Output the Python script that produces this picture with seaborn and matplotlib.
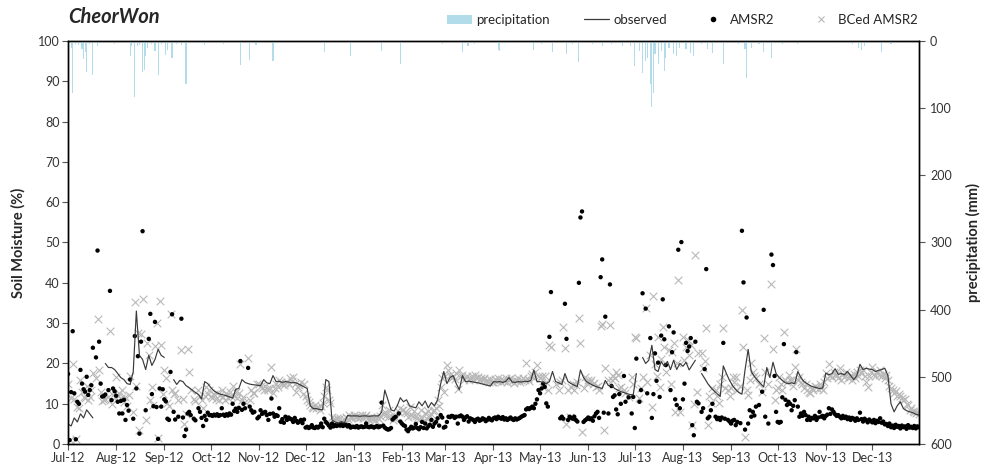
import numpy as np
import pandas as pd
import matplotlib
matplotlib.use("Agg")
import matplotlib.pyplot as plt
import matplotlib.dates as mdates
from matplotlib.lines import Line2D
from matplotlib.patches import Patch
import seaborn as sns

nan = np.nan
start = "2012-07-01"

# observed soil moisture (%), one value every 2 days from 1 Jul 2012
obs_sm = [
    5.0, 4.5, 6.5, 5.5, 7.5, 6.5, 8.5, 7.5, 6.5, nan, nan, nan, 20.0, 19.0, 19.0, 18.5,      # Jul-12
    17.5, 16.5, 16.0, 15.0, 14.8, 18.0, 33.0, 22.0, 21.0, 18.5, 22.0, 19.5, 21.0, 23.5, 22.0,  # Aug-12
    21.5, nan, nan, 16.0, 14.8, 15.8, 15.5, 14.5, 14.0, 13.4, 12.8, 12.3, 11.2, 15.5, 15.0,   # Sep-12
    14.0, 13.2, 12.7, 12.4, 12.2, 12.0, 11.7, 11.4, 13.6, 13.8, 16.0, 15.3, 15.0, 14.8, 14.7, 14.6,  # Oct-12
    14.5, 16.0, 15.2, 15.0, 17.0, 15.5, 15.6, 15.3, 15.5, 15.4, 15.2, 15.3, 15.0, 14.6, 14.2,  # Nov-12
    13.8, 9.5, 8.8, 8.8, 8.6, 8.5, 16.0, 15.5, 6.0, 5.5, 5.2, 5.6, 5.3, 7.1, 7.0,           # Dec-12
    7.0, 7.0, 6.9, 7.0, 7.0, 6.9, 7.0, 7.0, 7.0, 8.0, 13.4, 11.0, 8.5, 8.2, 9.5, 11.5,        # Jan-13
    10.5, 11.0, 9.5, 9.2, 9.0, 10.5, 9.5, 10.7, 9.0, 10.3, 9.5, 11.0, 15.0, 18.0,           # Feb-13
    15.0, 16.5, 17.0, 15.0, 13.5, 17.0, 15.5, 15.6, 15.5, 15.3, 15.2, 15.0, 14.8, 14.6, 14.4,  # Mar-13
    15.5, 15.4, 15.5, 15.3, 15.6, 16.5, 15.4, 15.3, 15.5, 15.4, 15.6, 15.5, 15.8, 18.4, 15.5,  # Apr-13
    15.5, 15.3, 15.0, 15.5, 18.0, 15.5, 15.2, 14.8, 17.5, 15.5, 15.0, 14.6, 14.3, 18.4, 16.5, 15.5,  # May-13
    15.0, 14.6, 14.3, 14.0, 13.8, 15.8, 14.5, 14.6, 13.8, 13.4, 13.0, 12.8, 12.5, 12.3, 12.2,  # Jun-13
    17.5, nan, 21.5, 20.0, 20.8, 24.5, 18.5, 18.0, 20.5, 19.3, 20.5, 18.5, 20.8, 18.5, 20.0,   # Jul-13
    19.3, 20.3, 18.4, 19.6, 20.8, nan, 17.5, 16.3, 15.0, 14.0, 13.2, 12.5, 11.8, 19.4, 17.5, 15.8,  # Aug-13
    14.5, 13.5, 12.8, 12.4, 18.4, 23.5, 18.0, 16.8, 15.8, 15.0, 14.2, 19.0, 16.5, 20.3, 17.5,  # Sep-13
    16.5, 15.8, 15.2, 15.0, 15.2, 15.0, 18.0, 16.5, 15.5, 15.0, 14.5, 14.2, 14.0, 13.8, 13.9,  # Oct-13
    17.6, 17.2, 17.5, 18.7, 17.3, 17.5, 17.2, 18.0, 17.0, 16.0, 17.0, 19.8, 18.5, 18.8, 18.6,  # Nov-13
    18.5, 18.0, 18.3, 18.5, 18.8, 17.0, 10.0, 8.0, 9.5, 10.5, 8.8, 8.3, 8.0, 7.8, 7.4, 7.2,    # Dec-13
]

# AMSR2 soil moisture (%), daily from 1 Jul 2012
amsr2_sm = [
    17.4, 1.0, 12.9, 28.0, 12.6, 1.2, 10.5, 10.0, 18.4, 15.0, 13.6, 13.0, 16.7, 12.2, 13.4, 14.6,
    23.9, nan, 21.5, 48.0, 25.4, 15.0, 11.8, 11.9, 12.3, nan, 13.4, 38.0, 10.9, 13.8, 13.1,
    12.0, 10.5, 7.6, 10.7, 7.6, 11.0, 6.0, 9.7, 8.3, 16.0, nan, 6.3, 26.8, 13.8, 21.8, 2.6,
    25.4, 52.8, nan, 8.4, nan, 26.1, 32.3, 12.4, 9.4, 30.3, 9.2, 1.3, 13.8, 9.3, 13.6,
    11.1, 10.6, 6.3, 6.0, 17.9, 32.2, 8.0, 6.1, nan, 6.8, nan, 31.1, 6.6, 2.0, 3.6,
    7.6, 8.0, 7.2, nan, 6.3, 5.9, nan, 8.9, 8.0, 6.5, 4.5, 7.0, 6.0, 7.8, 7.2,
    7.2, 7.0, 7.3, 7.1, 7.4, 7.0, 7.2, 8.9, 7.3, 7.0, 7.4, 7.1, 7.6, 7.3, 10.0, 8.2,
    8.8, 8.0, 9.0, 20.6, 8.5, 10.0, 8.9, nan, 18.9, 9.3, 8.4, 7.8, 8.0, nan, 6.4,
    6.8, 8.4, 7.5, 7.8, 8.0, 7.2, 6.0, 7.5, 11.3, 7.6, 6.8, 7.2, 7.0, 8.9, 5.5,
    6.2, 5.3, 6.8, 6.0, 6.6, 6.3, 6.1, 5.5, 6.5, 5.8, 5.3, 5.6, 6.0, 5.2, 6.1,
    4.1, 4.3, 4.0, 4.2, 4.7, 4.1, 4.0, 4.3, 4.1, 4.4, 5.1, 4.2, 6.3, 5.5, 5.1, 4.6,
    4.1, 5.1, 4.4, 4.7, 4.5, 4.8, 4.6, 4.9, 4.5, 4.7, 4.8, 4.4, 4.7, 4.1, 4.3,
    4.3, 4.2, 4.5, 4.1, 4.3, 4.4, 4.2, 4.3, 5.1, 4.3, 4.2, 4.4, 4.3, 4.1, 4.3, 4.5,
    4.2, 4.4, 10.3, 4.6, 4.1, 3.8, 3.6, 3.7, 4.0, 6.1, 6.5, 6.8, nan, 7.6, 5.6,
    5.1, 4.7, 4.5, 3.6, 3.2, 3.8, 4.3, 3.9, 4.1, 5.0, 4.0, 3.7, 4.2, 5.5,
    4.0, 5.1, 3.9, 4.4, 4.8, 6.0, 4.3, 5.1, 5.5, 6.4, 4.6, 7.2, 6.6, 4.1,
    4.3, 5.5, 6.8, 6.7, 7.0, 6.9, 6.5, 6.8, 5.1, 6.9, 7.1, 6.8, 6.0, 6.6, 6.9, 5.6,
    6.4, 6.2, 6.0, 5.5, 6.1, 6.3, 5.8, 6.0, 6.4, 6.2, 5.7, 6.0, 6.5, 6.1, 5.9,
    6.4, 6.6, 6.2, 6.8, 6.5, 6.3, 6.7, 6.1, 6.4, 6.0, 6.3, 6.6, 6.2, 6.0, 6.4,
    6.1, 6.3, 6.5, 6.8, 7.0, 7.2, 8.6, 8.9, 8.7, 9.0, 9.3, 8.9, 10.0, 11.1, 13.4,
    12.6, 13.8, 15.0, 14.2, 10.1, 9.3, 26.6, 37.7, nan, nan, nan, nan, nan, 6.4, 6.8, 6.3,
    34.8, 26.1, 6.0, 6.8, 6.5, 6.3, 6.8, 6.0, 5.6, 40.0, 56.2, 57.7, 5.5, 5.9, 6.2,
    6.6, 6.2, 6.4, 5.8, 6.9, 7.6, 8.0, 6.5, 41.4, 45.8, 7.8, 31.6, nan, 7.6, 39.6,
    14.4, 11.7, 12.1, 8.6, 7.4, 12.4, 10.0, nan, 16.9, 10.5, nan, 11.6, nan, 7.6, 11.7,
    4.0, 21.2, nan, 10.5, 13.4, 37.4, nan, 33.6, 12.6, nan, 26.3, 6.5, 12.4, 22.5, 15.7, 20.2,
    11.7, 26.9, 35.9, 26.0, 19.6, nan, 29.2, 13.4, 22.8, 27.7, 11.1, 9.7, 48.2, 8.9, 50.1,
    11.1, 15.0, 25.1, 23.1, 24.2, 26.3, 4.7, 2.2, 25.4, 10.5, 10.1, nan, 8.0, 8.9, 18.6, 43.4,
    6.4, 6.8, 8.4, 10.0, nan, 6.8, 6.2, 6.5, 6.0, 6.6, 25.1, 6.3, nan, 6.0, 5.6,
    5.1, 5.8, 6.0, 4.7, 5.5, nan, 5.2, 52.9, 40.1, 3.6, 31.4, 5.1, 8.4, 6.8, 8.0,
    7.1, 9.3, nan, 9.7, nan, 13.0, 33.3, 6.8, nan, 5.1, nan, 47.0, 44.4, 16.9, 8.0,
    5.5, 5.3, 5.5, 11.6, 24.8, 11.0, 9.7, 10.5, 10.0, 8.4, 9.5, 10.9, 22.8, 9.3, 6.8, 7.6,
    7.0, 8.0, 7.2, 6.0, 6.8, 6.0, 6.5, 6.4, 7.0, 6.0, 6.6, 8.0, 6.8, 7.0, 6.4,
    7.0, 7.3, 8.9, 7.5, 8.6, 8.0, 7.4, 7.0, 7.2, 6.8, 6.4, 7.0, 6.5, 6.8, 6.2,
    6.6, 6.0, 6.5, 6.3, 5.8, 6.4, 6.0, 7.8, 6.2, 5.6, 6.3, 5.9, 5.4, 6.1, 5.7,
    5.4, 6.0, 5.2, 5.8, 5.5, 6.4, 5.3, 5.6, 4.9, 5.0, 4.5, 5.1, 4.2, 4.6, 4.0, 4.8,
    4.3, 4.5, 3.9, 4.6, 4.2, 4.4, 3.8, 4.7, 4.1, 4.3, 4.0, 4.5, 3.9, 4.4, 4.2,
]

# bias-corrected AMSR2 soil moisture (%), daily from 1 Jul 2012
bced_sm = [
    15.0, 1.0, 11.5, 19.9, 11.3, 1.3, 9.3, 9.0, 15.9, 13.0, 11.8, 11.5, 14.3, 10.9, 11.8, 13.4,
    17.7, nan, 16.5, 31.0, 18.5, 13.0, 10.8, 10.9, 11.2, nan, 11.8, 28.1, 9.9, 12.2, 11.6,
    16.7, 12.0, 12.7, 11.5, 13.4, 10.5, 11.7, 9.5, 12.2, 17.0, nan, 8.0, 35.2, 14.5, 27.5, 3.5,
    27.3, 36.0, nan, 6.0, 25.0, 22.1, 10.9, 14.2, 9.8, 24.3, 30.1, 1.4, 35.5, 24.7, 12.5,
    18.4, 16.3, 10.1, 9.5, 32.2, 13.4, 12.5, 12.6, nan, 11.0, nan, 23.3, 11.2, 5.1, 7.5,
    23.7, 17.9, 13.4, nan, 11.3, 10.8, nan, 13.5, 12.0, 10.9, 9.0, 12.0, 14.2, 12.5, 13.4,
    12.0, 11.5, 12.5, 11.2, 12.8, 11.0, 12.2, 13.5, 11.8, 10.9, 12.6, 11.4, 13.0, 12.0, 14.5, 12.0,
    13.0, 11.5, 12.8, 19.9, 11.0, 11.7, 10.5, nan, 21.3, 11.0, 13.4, 12.6, 12.8, nan, 15.0,
    15.0, 14.5, 14.0, 13.4, 14.5, 13.6, 13.4, 14.0, 19.2, 12.6, 14.0, 15.0, 14.2, 15.8, 15.5,
    14.8, 14.6, 15.2, 15.5, 14.8, 16.3, 15.6, 16.7, 15.0, 13.0, 14.2, 14.6, 15.5, 12.5, 15.0,
    12.0, 11.0, 10.5, 9.8, 9.3, 9.0, 9.7, 8.9, 9.2, 8.4, 9.5, 10.1, 12.0, 14.2, 13.4, 11.0,
    10.1, 6.8, 6.2, 6.0, 6.5, 6.0, 6.4, 5.8, 5.1, 6.2, 6.8, 6.3, 7.2, 6.5, 6.8,
    7.2, 6.8, 7.0, 6.5, 6.8, 7.1, 6.6, 6.9, 7.3, 6.4, 6.0, 6.7, 6.2, 6.5, 6.0, 6.8,
    6.3, 6.9, 9.7, 7.5, 8.0, 7.2, 6.8, 8.4, 7.0, 6.0, 6.5, 6.4, nan, 8.0, 8.9,
    8.5, 8.4, 8.0, 7.6, 6.8, 9.3, 7.2, 6.9, 8.2, 7.0, 6.6, 6.2, 8.4, 6.5,
    6.0, 7.8, 6.3, 8.1, 7.0, 7.5, 8.3, 8.5, 9.0, 10.9, 9.5, 14.2, 16.3, 13.0,
    17.0, 19.6, 18.4, 17.2, 16.5, 17.0, 16.2, 17.6, 13.6, 18.4, 16.8, 17.2, 16.0, 16.6, 17.0, 15.8,
    16.4, 16.8, 16.2, 17.1, 16.4, 16.7, 16.0, 16.3, 15.8, 16.4, 15.6, 16.0, 15.4, 16.1, 15.5,
    15.5, 16.2, 15.6, 16.4, 15.8, 15.3, 16.0, 15.7, 16.5, 15.4, 16.1, 16.5, 15.7, 15.2, 16.0,
    15.6, 16.3, 15.5, 16.0, 16.5, 15.8, 20.2, 16.2, 15.7, 17.0, 17.5, 16.5, 18.0, 19.6, 17.0,
    16.5, 17.0, 14.2, 17.0, 15.5, 13.4, 24.6, 24.2, nan, nan, 15.0, nan, 13.4, 15.5, 16.0, 29.0,
    23.8, 5.1, 13.5, 6.8, 14.2, 15.0, 13.4, 14.6, 15.5, 31.3, 25.0, 3.0, 14.0, 16.7, 15.2,
    15.8, 15.4, 16.0, 14.8, 15.2, 14.2, 14.5, 13.4, 29.3, 29.8, 3.5, 18.8, nan, 16.0, 29.5,
    15.9, 17.0, 16.5, 17.9, 17.1, 14.0, 14.2, nan, 13.4, 12.8, nan, 11.7, nan, 16.7, 15.0,
    26.6, 26.2, nan, 11.5, 14.0, 16.7, nan, 33.7, 15.5, nan, 22.0, 9.3, 36.7, 19.9, 17.0, 26.6,
    14.2, 21.0, 29.1, 24.2, 18.0, nan, 23.3, 15.0, 22.9, 25.0, 8.0, 20.0, 40.7, 8.0, nan,
    26.6, 20.8, 24.0, 25.8, 22.0, 24.5, 4.7, 10.0, 46.8, 13.0, 22.5, nan, 22.5, 19.0, 20.5, 28.9,
    4.7, 12.0, 10.1, 14.0, nan, 13.4, 12.0, 10.1, 15.0, 16.7, 28.9, 14.0, nan, 13.4, 12.0,
    14.0, 16.7, 15.5, 16.7, 13.4, nan, 14.5, 33.3, 24.2, 1.8, 13.4, 12.2, 16.0, 20.0, 18.0,
    17.0, 16.5, nan, 15.0, nan, 13.0, 26.3, 18.0, nan, 15.0, nan, 39.8, 23.6, 10.9, 13.4,
    14.0, 16.7, 15.0, 13.5, 27.8, 16.0, 15.5, 17.1, 16.0, 15.9, 14.5, 19.2, 23.5, 16.0, 16.7, 15.5,
    15.0, 14.0, 14.8, 13.4, 13.0, 12.6, 13.8, 13.4, 14.5, 14.2, 13.6, 15.0, 14.0, 13.4, 15.5,
    17.7, 16.5, 19.9, 17.0, 16.7, 18.0, 17.2, 17.1, 16.4, 18.8, 16.0, 17.5, 16.7, 17.8, 16.3,
    16.7, 17.2, 15.8, 17.4, 16.5, 18.0, 17.0, 18.4, 17.6, 18.4, 16.8, 15.5, 14.2, 17.0, 18.0,
    19.2, 17.5, 16.8, 18.0, 17.2, 18.5, 16.9, 17.5, 16.5, 17.2, 15.8, 14.5, 14.0, 13.4, 12.8, 13.2,
    12.0, 12.5, 11.9, 11.5, 10.9, 11.2, 10.0, 9.8, 8.4, 9.0, 8.2, 8.0, 7.6, 7.9, 7.5,
]

# daily precipitation events: days since 1 Jul 2012 and amount (mm)
rain_day = [2, 3, 5, 7, 9, 10, 11, 12, 14, 16, 19, 22, 30, 40, 41, 43, 45, 46, 48, 49,
            50, 51, 54, 56, 58, 60, 63, 64, 67, 70, 73, 76, 80, 88, 100, 111, 117, 121, 132, 136,
            150, 165, 182, 202, 214, 241, 254, 257, 258, 262, 277, 278, 290, 300, 305, 312, 321, 325, 329, 338,
            344, 350, 357, 362, 365, 368, 370, 372, 373, 375, 376, 377, 378, 380, 382, 384, 385, 387, 390, 392,
            394, 398, 401, 403, 408, 412, 415, 422, 432, 436, 437, 440, 445, 448, 453, 460, 470, 478, 496, 505,
            509, 511, 513, 524, 530, 540]
rain_mm = [10, 78, 4, 6, 12, 27, 17, 46, 5, 51, 7, 3, 4, 22, 8, 83, 8, 6, 47, 44,
           22, 10, 5, 15, 51, 5, 21, 14, 25, 4, 6, 64, 3, 6, 4, 36, 28, 6, 30, 3,
           3, 17, 22, 15, 35, 5, 16, 7, 7, 4, 14, 15, 3, 14, 5, 17, 19, 4, 32, 4,
           7, 5, 8, 7, 38, 15, 48, 30, 25, 64, 99, 77, 20, 35, 15, 45, 25, 10, 20, 22,
           10, 12, 18, 22, 5, 12, 18, 35, 4, 12, 55, 10, 5, 17, 25, 4, 5, 3, 3, 4,
           10, 14, 8, 16, 4, 3]

RAIN_COLOR = "#b3dcea"
OBS_COLOR = "#3a3a3a"
BC_COLOR = "#b8b8b8"

sns.set_theme(style="white")
plt.rcParams["font.family"] = ["Lato", "DejaVu Sans"]

obs = pd.DataFrame({"date": pd.date_range(start, periods=len(obs_sm), freq="2D"), "sm": obs_sm})
obs["seg"] = obs["sm"].isna().cumsum()
obs = obs.dropna()
sat = pd.DataFrame({"date": pd.date_range(start, periods=len(amsr2_sm), freq="D"), "sm": amsr2_sm}).dropna()
bc = pd.DataFrame({"date": pd.date_range(start, periods=len(bced_sm), freq="D"), "sm": bced_sm}).dropna()
rain_dates = pd.Timestamp(start) + pd.to_timedelta(rain_day, unit="D")

fig = plt.figure(figsize=(9.86, 4.75), dpi=100)
ax = fig.add_axes([0.069, 0.065, 0.863, 0.849])

sns.scatterplot(data=bc, x="date", y="sm", marker="x", s=30, color=BC_COLOR,
                linewidth=0.8, ax=ax, legend=False, zorder=2)
sns.scatterplot(data=sat, x="date", y="sm", marker="o", s=10, color="black",
                edgecolor="none", ax=ax, legend=False, zorder=3)
sns.lineplot(data=obs, x="date", y="sm", units="seg", estimator=None, color=OBS_COLOR,
             linewidth=0.85, ax=ax, legend=False, zorder=4)

ax.set_xlim(pd.Timestamp("2012-07-01"), pd.Timestamp("2013-12-31"))
ax.set_ylim(0, 100)
ax.set_yticks(range(0, 101, 10))
ax.xaxis.set_major_locator(mdates.MonthLocator())
ax.xaxis.set_major_formatter(mdates.DateFormatter("%b-%y"))
ax.set_xlabel("")
ax.set_ylabel("Soil Moisture (%)", fontsize=10.5, fontweight="bold", labelpad=9)

ax2 = ax.twinx()
ax2.bar(rain_dates, rain_mm, width=0.75, color=RAIN_COLOR, linewidth=0)
ax2.set_ylim(600, 0)
ax2.set_yticks(range(0, 601, 100))
ax2.set_ylabel("precipitation (mm)", fontsize=10.5, fontweight="bold", labelpad=10)

for a in (ax, ax2):
    for sp in a.spines.values():
        sp.set_visible(True)
        sp.set_color("black")
        sp.set_linewidth(1.0)
ax.tick_params(axis="both", which="major", bottom=True, left=True, direction="out",
               length=4, width=0.8, color="#555555", labelsize=9, labelcolor="#333333", pad=2)
ax2.tick_params(axis="y", right=True, direction="out", length=4, width=0.8,
                color="#555555", labelsize=9, labelcolor="#333333", pad=4)

fig.text(0.069, 0.964, "CheorWon", fontsize=14.5, fontweight="bold", fontstyle="italic", va="center")

handles = [
    Patch(facecolor=RAIN_COLOR, edgecolor="none"),
    Line2D([], [], color=OBS_COLOR, lw=0.9),
    Line2D([], [], marker="o", ls="", color="black", markersize=3),
    Line2D([], [], marker="x", ls="", color=BC_COLOR, markersize=5, markeredgewidth=0.8),
]
labels = ["precipitation", "observed", "AMSR2", "BCed AMSR2"]
fig.legend(handles, labels, loc="center", bbox_to_anchor=(0.692, 0.958), ncol=4,
           frameon=False, fontsize=9.5, handlelength=1.9, handletextpad=0.3,
           columnspacing=2.6)

fig.savefig("out.png", dpi=100)
